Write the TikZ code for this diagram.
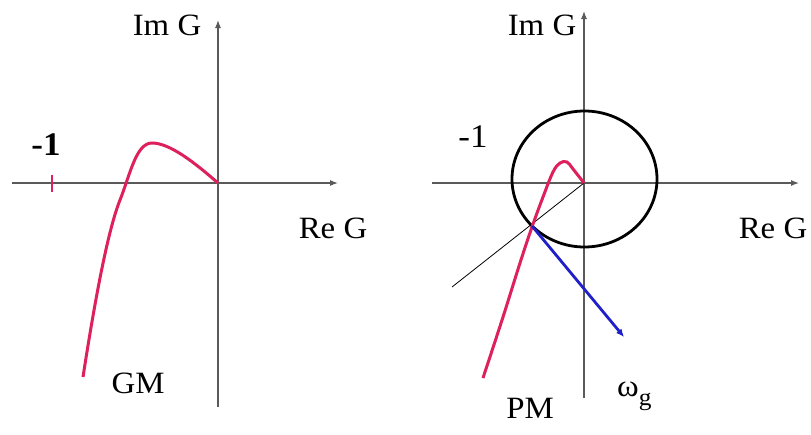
\documentclass[tikz,border=0pt]{standalone}
\usepackage{fontspec}
\setmainfont{Liberation Serif}[FakeStretch=1.06]
\usetikzlibrary{arrows.meta}
\definecolor{curvered}{RGB}{222,32,92}
\definecolor{arrowblue}{RGB}{32,32,200}
\definecolor{axisgray}{RGB}{90,90,90}
\begin{document}
\begin{tikzpicture}[x=1pt,y=-1pt,
  axis/.style={draw=axisgray,line width=1.1pt,-{Latex[length=8pt,width=6pt]}},
  nyq/.style={draw=curvered,line width=3pt},
  lbl/.style={inner sep=0pt,font=\fontsize{31}{31}\selectfont}]
\useasboundingbox (0,0) rectangle (811,434);
% ---------- left panel ----------
\coordinate (O1) at (218,183);
\coordinate (xl1) at (12,183);
\coordinate (xr1) at (338,183);
\coordinate (yb1) at (218,407);
\coordinate (yt1) at (218,20);
\draw[axis] (xl1) -- (xr1);
\draw[axis] (yb1) -- (yt1);
\node[lbl] (im1) at (167,25) {Im G};
\node[lbl] (re1) at (333,228) {Re G};
\node[inner sep=0pt,font=\fontsize{33}{33}\selectfont\bfseries] (m1) at (46,145) {-1};
\coordinate (t1a) at (52,175);
\coordinate (t1b) at (52,192);
\draw[nyq,line width=2.5pt] (t1a) -- (t1b);
\coordinate (S1) at (83,377);
\coordinate (C1) at (120,200);
\coordinate (T1) at (152,143);
\draw[nyq] (S1) .. controls (98,280) and (110,225) .. (C1)
  .. controls (130,175) and (136,143) .. (T1)
  .. controls (170,143) and (195,163) .. (O1);
\node[lbl] (gm) at (138,383) {GM};
% ---------- right panel ----------
\coordinate (O2) at (584,183);
\coordinate (xl2) at (432,183);
\coordinate (xr2) at (799,183);
\coordinate (yb2) at (584,398);
\coordinate (yt2) at (584,11);
\draw[axis] (xl2) -- (xr2);
\draw[axis] (yb2) -- (yt2);
\node[lbl] (im2) at (542,25) {Im G};
\node[lbl] (re2) at (773,228) {Re G};
\node[inner sep=0pt,font=\fontsize{33}{33}\selectfont] (m2) at (473,137) {-1};
\draw[black,line width=2.8pt] (584.5,179) ellipse [x radius=72.5, y radius=68];
\coordinate (L) at (452,287);
\coordinate (P) at (532,226);
\coordinate (W) at (624,337);
\draw[black,line width=0.8pt] (L) -- (O2);
\draw[nyq] plot[smooth,tension=0.6] coordinates {(483,378) (503,317) (520,263) (532,227) (543,197) (553,172) (560,163) (567,162) (573,169) (584,183)};
\draw[arrowblue,line width=2.8pt,-{Latex[length=8pt,width=7pt]}] (P) -- (W);
\node[lbl] (pm) at (530,408) {PM};
\node[lbl,anchor=base west] (wg) at (617,396) {ω\raisebox{-9pt}{\fontsize{24}{24}\selectfont g}};
\end{tikzpicture}
\end{document}
